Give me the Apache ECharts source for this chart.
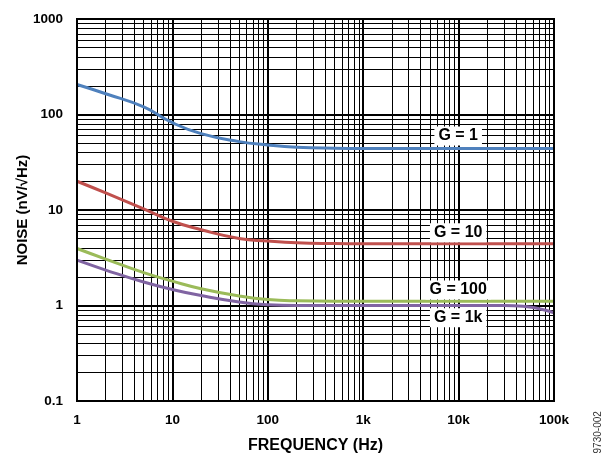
<!DOCTYPE html>
<html><head><meta charset="utf-8">
<script src="https://cdn.jsdelivr.net/npm/echarts@6/dist/echarts.min.js"></script>
<style>html,body{margin:0;padding:0;background:#fff;overflow:hidden}#c{width:608px;height:453px}</style>
</head><body><div id="c"></div>
<script>
// Frequencies (Hz)
const freq = [1, 2, 5, 10, 20, 50, 100, 200, 500, 1000, 2000, 5000, 10000, 20000, 30000, 50000, 70000, 100000];
// Noise (nV/rtHz)
const g1   = [206, 165, 120, 82, 63, 52, 48, 45.5, 44.3, 44, 44, 44, 44, 44, 44, 44, 44, 44];
const g10  = [20, 15.1, 10.3, 7.63, 6.22, 5.04, 4.73, 4.53, 4.45, 4.43, 4.43, 4.43, 4.43, 4.43, 4.43, 4.43, 4.43, 4.43];
const g100 = [3.95, 3.06, 2.21, 1.8, 1.5, 1.26, 1.155, 1.12, 1.11, 1.11, 1.11, 1.11, 1.11, 1.11, 1.11, 1.11, 1.11, 1.11];
const g1k  = [2.98, 2.35, 1.76, 1.47, 1.27, 1.09, 1.02, 1.0, 1.0, 1.0, 1.0, 1.0, 1.0, 1.0, 1.0, 0.975, 0.925, 0.84];
const seriesNames = ['G = 1', 'G = 10', 'G = 100', 'G = 1k'];
// label anchor points [freq, noise]
const labelPos = [[9900, 59.6], [9900, 5.77], [9900, 1.45], [9900, 0.744]];
// tick labels
const xTickLabels = {1:'1', 10:'10', 100:'100', 1000:'1k', 10000:'10k', 100000:'100k'};
const yTickLabels = {0.1:'0.1', 1:'1', 10:'10', 100:'100', 1000:'1000'};
// minor grid values
const xMinor = [];
[1, 10, 100, 1000, 10000].forEach(d => { for (let k = 2; k <= 9; k++) xMinor.push(d * k); });
const yMinor = [];
[0.1, 1, 10, 100].forEach(d => { for (let k = 2; k <= 9; k++) yMinor.push(+(d * k).toPrecision(3)); });

const colors = ['#4f81bd', '#c0504d', '#9bbb59', '#8064a2'];
const curves = [g1, g10, g100, g1k];
const font = 'Liberation Sans, Arial, sans-serif';

const chart = echarts.init(document.getElementById('c'), null, {renderer: 'canvas'});
const series = [];
series.push({
  type: 'line', data: [[1, 0.1]], symbol: 'none', lineStyle: {opacity: 0}, silent: true, z: 1,
  markLine: {
    silent: true, symbol: 'none', animation: false,
    label: {show: false},
    lineStyle: {color: '#000', width: 1, type: 'solid', opacity: 1},
    emphasis: {disabled: true},
    data: xMinor.map(v => ({xAxis: v})).concat(yMinor.map(v => ({yAxis: v})))
  }
});
curves.forEach((c, i) => {
  series.push({
    type: 'line', name: seriesNames[i], smooth: 0.5, symbol: 'none', z: 5,
    lineStyle: {color: colors[i], width: 3}, itemStyle: {color: colors[i]},
    data: freq.map((f, j) => [f, c[j]])
  });
});
series.push({
  type: 'scatter', symbolSize: 0, z: 10, silent: true,
  itemStyle: {opacity: 1},
  data: labelPos.map((p, i) => ({value: p, name: seriesNames[i]})),
  label: {
    show: true, position: 'inside', formatter: p => p.name,
    fontFamily: font, fontWeight: 'bold', fontSize: 16, color: '#000', opacity: 1,
    textBorderWidth: 0,
    backgroundColor: '#fff', padding: [2, 4, 1, 4]
  }
});

chart.setOption({
  animation: false,
  backgroundColor: '#fff',
  grid: {left: 77, top: 19, right: 54, bottom: 52, show: false, containLabel: false, outerBoundsMode: 'none'},
  xAxis: {
    type: 'log', logBase: 10, min: 1, max: 100000,
    name: 'FREQUENCY (Hz)', nameLocation: 'middle', nameGap: 37, nameMoveOverlap: false,
    nameTextStyle: {fontFamily: font, fontWeight: 'bold', fontSize: 16, color: '#000'},
    axisLine: {show: true, onZero: false, lineStyle: {color: '#000', width: 2}},
    axisTick: {show: false},
    axisLabel: {fontFamily: font, fontWeight: 'bold', fontSize: 13.5, color: '#000', margin: 12,
      formatter: v => xTickLabels[Math.round(v)] || ''},
    splitLine: {show: true, lineStyle: {color: '#000', width: 2}}
  },
  yAxis: {
    type: 'log', logBase: 10, min: 0.1, max: 1000,
    name: 'NOISE (nV/\u221AHz)', nameLocation: 'middle', nameGap: 47, nameRotate: 90, nameMoveOverlap: false,
    nameTextStyle: {fontFamily: font, fontWeight: 'bold', fontSize: 15, color: '#000'},
    axisLine: {show: true, onZero: false, lineStyle: {color: '#000', width: 2}},
    axisTick: {show: false},
    axisLabel: {fontFamily: font, fontWeight: 'bold', fontSize: 13.5, color: '#000', margin: 14,
      formatter: v => { const k = +(+v).toPrecision(3); return yTickLabels[k] || ''; }},
    splitLine: {show: true, lineStyle: {color: '#000', width: 2}}
  },
  graphic: [
    {type: 'rect', shape: {x: 77, y: 19, width: 477, height: 382}, style: {fill: 'none', stroke: '#000', lineWidth: 2}, z: 20, silent: true},
    {type: 'text', x: 593, y: 459, rotation: Math.PI / 2,
     style: {text: '09730-002', fontFamily: font, fontSize: 10, fill: '#333', textAlign: 'left', textVerticalAlign: 'top'}}
  ],
  series: series
});
</script></body></html>
